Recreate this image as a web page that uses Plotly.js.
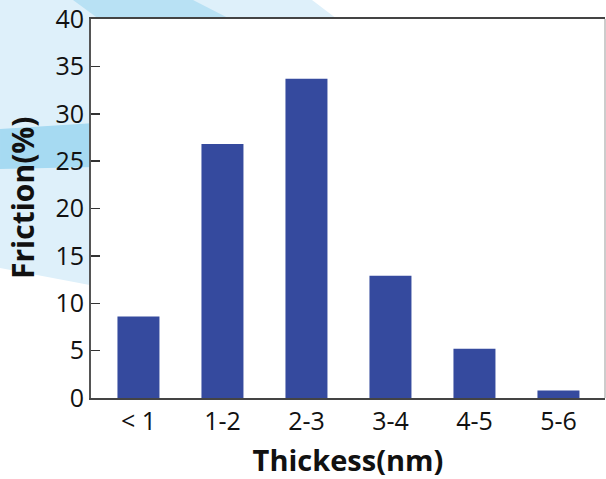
<!DOCTYPE html>
<html>
<head>
<meta charset="utf-8">
<script src="https://cdn.plot.ly/plotly-3.0.1.min.js"></script>
<style>html,body{margin:0;padding:0;background:#fff;}#chart{width:606px;height:479px;}</style>
</head>
<body>
<div id="chart"></div>
<script>
const categories = ['< 1', '1-2', '2-3', '3-4', '4-5', '5-6'];
const friction = [8.6, 26.8, 33.7, 12.9, 5.2, 0.8];
const yTicks = [0, 5, 10, 15, 20, 25, 30, 35, 40];
const xTitle = 'Thickess(nm)';
const yTitle = 'Friction(%)';

const W = 606, H = 479;
const M = {l: 91, r: 1, t: 19, b: 81};
const PW = W - M.l - M.r, PH = H - M.t - M.b;
function pxn(x) { return (x - M.l) / PW; }
function pyn(y) { return (H - M.b - y) / PH; }
function poly(pts) {
  return 'M ' + pts.map(p => pxn(p[0]).toFixed(4) + ' ' + pyn(p[1]).toFixed(4)).join(' L ') + ' Z';
}

const shapes = [
  {type: 'path', xref: 'paper', yref: 'paper', layer: 'below', line: {width: 0}, fillcolor: '#DEF0FA',
   path: poly([[0,0],[312,0],[345,25],[95,286],[0,268]])},
  {type: 'path', xref: 'paper', yref: 'paper', layer: 'below', line: {width: 0}, fillcolor: '#B8E1F4',
   path: poly([[73,0],[193,0],[236,22],[103,22]])},
  {type: 'path', xref: 'paper', yref: 'paper', layer: 'below', line: {width: 0}, fillcolor: '#A6DAF2',
   path: poly([[0,129],[95,123],[95,167],[0,169]])},
  {type: 'rect', xref: 'paper', yref: 'paper', layer: 'below', line: {width: 0}, fillcolor: '#FFFFFF',
   x0: 0, x1: 1, y0: 0, y1: 1},
  {type: 'line', xref: 'paper', yref: 'paper', x0: 1, x1: 1, y0: 0, y1: 1,
   line: {color: '#BBBBBB', width: 1.5}}
];

const trace = {
  type: 'bar',
  x: categories,
  y: friction,
  marker: {color: '#354A9E', line: {width: 0}},
  hoverinfo: 'x+y'
};

const layout = {
  width: W, height: H,
  margin: M,
  paper_bgcolor: 'rgba(0,0,0,0)',
  plot_bgcolor: 'rgba(0,0,0,0)',
  font: {family: '"Open Sans", "Noto Sans", sans-serif', color: '#111111'},
  bargap: 0.5,
  showlegend: false,
  shapes: shapes,
  annotations: [{
    text: yTitle, textangle: -90, showarrow: false,
    xref: 'paper', yref: 'paper', x: pxn(22), y: pyn(198),
    xanchor: 'center', yanchor: 'middle',
    font: {size: 30, color: '#111111', weight: 'bold'}
  }],
  xaxis: {
    type: 'category',
    range: [-0.565, 5.554],
    showline: true, linecolor: '#444444', linewidth: 2, mirror: true,
    ticks: '', showgrid: false, zeroline: false,
    tickfont: {size: 25, color: '#111111'},
    title: {text: xTitle, font: {size: 29, color: '#111111', weight: 'bold'}, standoff: 17}
  },
  yaxis: {
    range: [0, 40],
    tickvals: yTicks,
    ticktext: yTicks.map(String),
    showline: true, linecolor: '#555555', linewidth: 2,
    ticks: 'inside', ticklen: 9, tickwidth: 1.5, tickcolor: '#333333',
    showgrid: false, zeroline: false,
    tickfont: {size: 25, color: '#111111'}
  }
};

Plotly.newPlot('chart', [trace], layout, {staticPlot: true, displayModeBar: false});
</script>
</body>
</html>
